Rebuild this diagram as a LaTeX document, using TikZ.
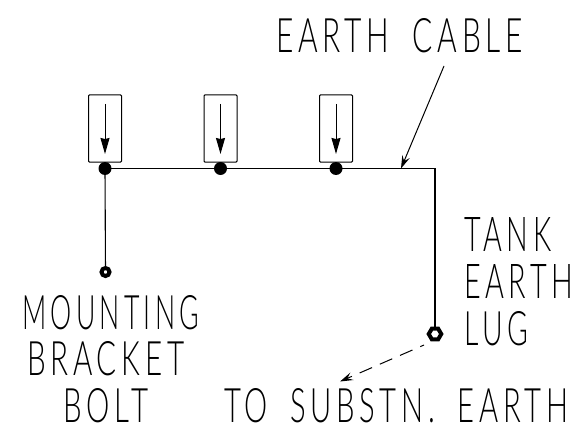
\documentclass[tikz,border=0pt]{standalone}
\usepackage{fontspec}
\usepackage{graphicx}
\usetikzlibrary{arrows.meta,shapes.geometric}
\newfontfamily\lblfont[LetterSpace=16,WordSpace=1.8]{Lato Light}
\tikzset{
  wire/.style={line width=1.1pt,black},
  lead/.style={line width=1pt,black},
  fixbox/.style={draw,line width=1pt,rounded corners=0.8pt,minimum width=33pt,minimum height=67pt,inner sep=0pt},
  dot/.style={circle,fill=black,minimum size=13pt,inner sep=0pt},
  ringbolt/.style={circle,draw=black,fill=white,line width=4pt,minimum size=8pt,inner sep=0pt},
  luglug/.style={regular polygon,regular polygon sides=6,draw=black,fill=white,line width=4pt,minimum size=12.5pt,inner sep=0pt},
  txt/.style={inner sep=0pt,anchor=north west},
  solidhead/.style={-{Stealth[length=16pt,width=9pt,inset=1pt]}},
  barbhead/.style={-{Stealth[length=13pt,width=8pt,inset=5pt]}},
  barbback/.style={{Stealth[length=13pt,width=8pt,inset=5pt]}-}
}
\newcommand{\lbl}[3]{\resizebox{#1pt}{#2pt}{\lblfont #3}}
\begin{document}
\begin{tikzpicture}[x=1pt,y=-1pt]
\useasboundingbox (0,0) rectangle (579,428);
\node[fixbox] (b1) at (105,128.5) {};
\node[fixbox] (b2) at (220.5,128.5) {};
\node[fixbox] (b3) at (336,128.5) {};
\node[dot] (d1) at (105,168.5) {};
\node[dot] (d2) at (220.5,168.5) {};
\node[dot] (d3) at (336,168.5) {};
\coordinate (corner) at (435,168.5);
\node[ringbolt] (bolt) at (105.5,272) {};
\node[luglug] (lug) at (435,334) {};
\coordinate (cablept) at (401,168.5);
\coordinate (cabletail) at (444,66);
\coordinate (dashend) at (340,381.5);
\coordinate (dashstart) at (424,345);
\foreach \i in {1,2,3}{
  \coordinate (t\i) at ([yshift=64.5pt]d\i.center);
  \coordinate (h\i) at ([yshift=14.5pt]d\i.center);
  \draw[lead,solidhead] (t\i) -- (h\i);
}
\draw[wire] (d1.center) -- (d2.center) -- (d3.center) -- (corner) -- (lug);
\draw[wire] (d1.center) -- (bolt);
\draw[lead,barbhead] (cabletail) -- (cablept);
\draw[lead,barbback,dash pattern=on 13.5pt off 8.5pt,dash phase=8pt] (dashend) -- (dashstart);
\node[txt] (l1) at (276,18) {\lbl{247}{34}{EARTH CABLE}};
\node[txt] (l2) at (22,295) {\lbl{177}{34}{MOUNTING}};
\node[txt] (l3) at (27,341) {\lbl{157}{34}{BRACKET}};
\node[txt] (l4) at (63,388) {\lbl{85}{34}{BOLT}};
\node[txt] (l5) at (464,217) {\lbl{87}{34}{TANK}};
\node[txt] (l6) at (464,264) {\lbl{109}{34}{EARTH}};
\node[txt] (l7) at (464,311) {\lbl{64}{34}{LUG}};
\node[txt] (l8) at (224,388) {\lbl{344}{34}{TO SUBSTN. EARTH}};
\end{tikzpicture}
\end{document}
